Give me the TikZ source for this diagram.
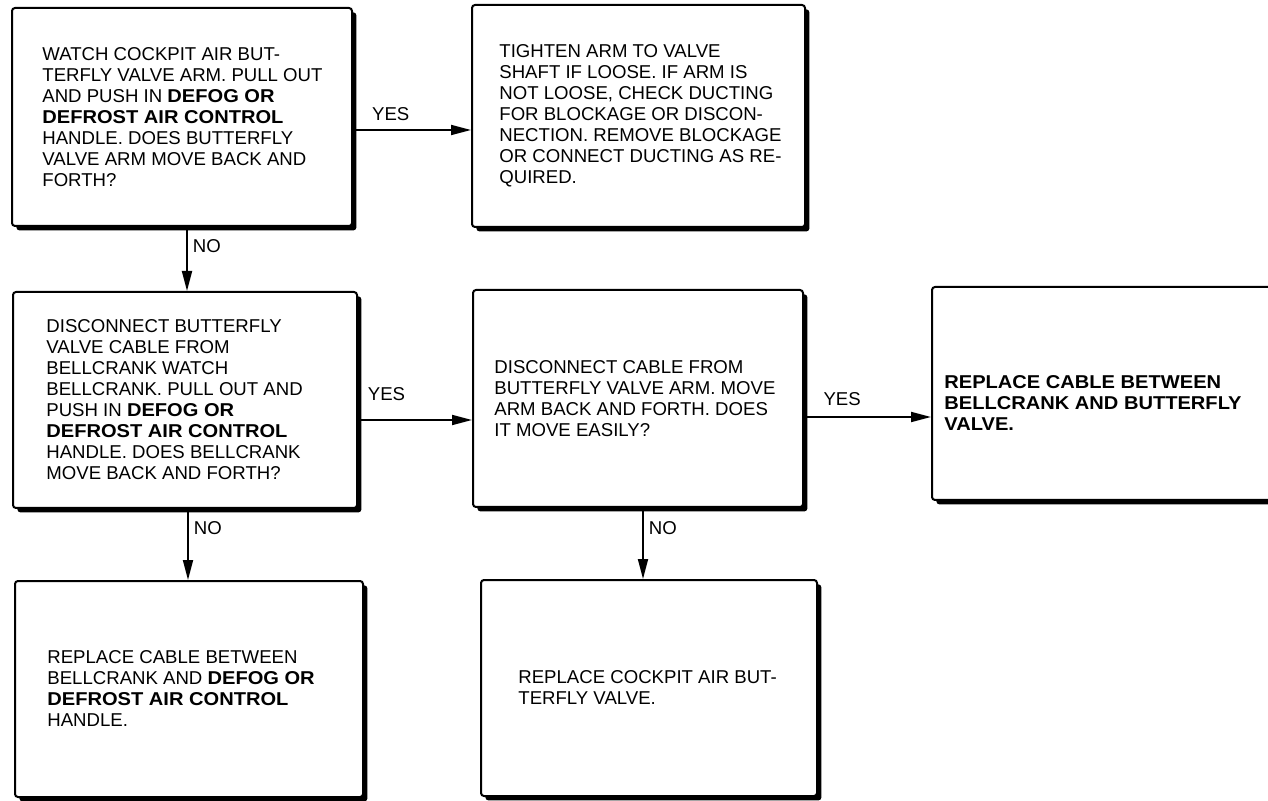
\documentclass[tikz,border=0pt]{standalone}
\usepackage{fontspec}
\setmainfont{Liberation Sans}[BoldFeatures={FakeStretch=1.08}]
\usepackage{tikz}
\usetikzlibrary{arrows.meta,shadows}
\tikzset{
  >={Triangle[length=10pt,width=5pt]},
  % kaaviot
  tsbox/.style={draw=black,fill=white,line width=1pt,rounded corners=1.5pt,inner sep=0pt,
                drop shadow={shadow xshift=2.2pt,shadow yshift=-2.2pt,fill=black,opacity=1}},
  tstxt/.style={anchor=west,align=left,inner sep=0pt,font=\fontsize{9.3}{10.5}\selectfont},
  tslink/.style={->,draw=black,line width=0.9pt},
  tslbl/.style={inner sep=0pt,font=\fontsize{9.3}{10.5}\selectfont},
}

\begin{document}
\begin{tikzpicture}[x=0.5pt,y=-0.5pt]
\clip (0,0) rectangle (1268,801);
  % laatikot
  \node[tsbox,minimum width=170pt,minimum height=109pt] (b1) at (182,117) {};
  \node[tsbox,minimum width=166.5pt,minimum height=111pt] (b2) at (638.5,116) {};
  \node[tsbox,minimum width=172pt,minimum height=108pt] (b3) at (185,400) {};
  \node[tsbox,minimum width=165pt,minimum height=108.5pt] (b4) at (638,398.5) {};
  \node[tsbox,minimum width=179pt,minimum height=106.5pt] (b5) at (1111,393.5) {};
  \node[tsbox,minimum width=174pt,minimum height=108pt] (b6) at (189,689) {};
  \node[tsbox,minimum width=168pt,minimum height=108pt] (b7) at (649,688) {};
  % tekstit
  \node[tstxt] (t1) at ([xshift=15.5pt]b1.west) {WATCH COCKPIT AIR BUT-\\TERFLY VALVE ARM. PULL OUT\\AND PUSH IN \textbf{DEFOG OR}\\\textbf{DEFROST AIR CONTROL}\\HANDLE. DOES BUTTERFLY\\VALVE ARM MOVE BACK AND\\FORTH?};
  \node[tstxt] (t2) at ([xshift=14pt]b2.west) {TIGHTEN ARM TO VALVE\\SHAFT IF LOOSE. IF ARM IS\\NOT LOOSE, CHECK DUCTING\\FOR BLOCKAGE OR DISCON-\\NECTION. REMOVE BLOCKAGE\\OR CONNECT DUCTING AS RE-\\QUIRED.};
  \node[tstxt] (t3) at ([xshift=17pt]b3.west) {DISCONNECT BUTTERFLY\\VALVE CABLE FROM\\BELLCRANK WATCH\\BELLCRANK. PULL OUT AND\\PUSH IN \textbf{DEFOG OR}\\\textbf{DEFROST AIR CONTROL}\\HANDLE. DOES BELLCRANK\\MOVE BACK AND FORTH?};
  \node[tstxt] (t4) at ([xshift=11pt]b4.west) {DISCONNECT CABLE FROM\\BUTTERFLY VALVE ARM. MOVE\\ARM BACK AND FORTH. DOES\\IT MOVE EASILY?};
  \node[tstxt,font=\fontsize{9.3}{10.5}\selectfont\bfseries] (t5) at ([xshift=6.5pt,yshift=-5pt]b5.west) {REPLACE CABLE BETWEEN\\BELLCRANK AND BUTTERFLY\\VALVE.};
  \node[tstxt] (t6) at ([xshift=16.5pt]b6.west) {REPLACE CABLE BETWEEN\\BELLCRANK AND \textbf{DEFOG OR}\\\textbf{DEFROST AIR CONTROL}\\HANDLE.};
  \node[tstxt] (t7) at ([xshift=19pt]b7.west) {REPLACE COCKPIT AIR BUT-\\TERFLY VALVE.};
  % nuolet
  \coordinate (y1) at ([yshift=-6.5pt]b1.east);
  \coordinate (y2) at ([yshift=-10pt]b3.east);
  \coordinate (y3) at ([yshift=-9.25pt]b4.east);
  \coordinate (n1) at ([xshift=2.5pt]b1.south);
  \coordinate (n2) at ([xshift=1.5pt]b3.south);
  \coordinate (n3) at ([xshift=2.5pt]b4.south);
  \draw[tslink] (y1) -- node[tslbl,above=4pt,pos=0.32] {YES} (y1 -| b2.west);
  \draw[tslink] (y2) -- node[tslbl,above=9pt,pos=0.25] {YES} (y2 -| b4.west);
  \draw[tslink] (y3) -- node[tslbl,above=5pt,pos=0.30] {YES} (y3 -| b5.west);
  \draw[tslink] (n1) -- node[tslbl,right=2.5pt,pos=0.3] {NO} (n1 |- b3.north);
  \draw[tslink] (n2) -- node[tslbl,right=2.5pt,pos=0.27] {NO} (n2 |- b6.north);
  \draw[tslink] (n3) -- node[tslbl,right=2.5pt,pos=0.28] {NO} (n3 |- b7.north);
\end{tikzpicture}
\end{document}
